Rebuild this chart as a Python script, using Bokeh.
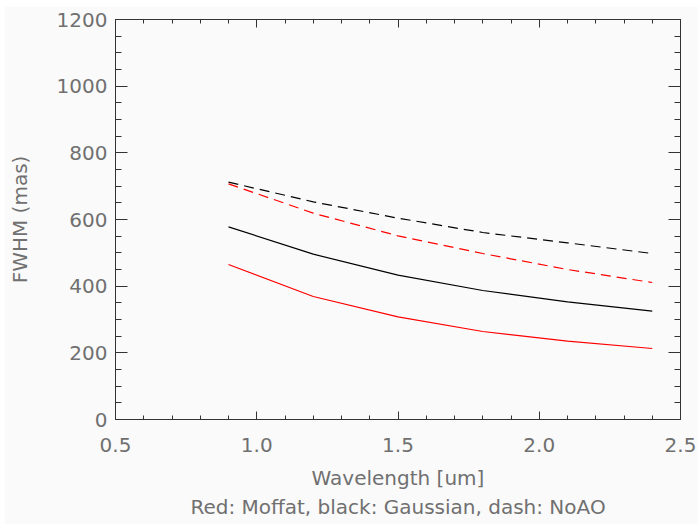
from bokeh.plotting import figure
from bokeh.models import (Range1d, LinearAxis, SingleIntervalTicker, NumeralTickFormatter,
                          Title, CustomJSTickFormatter)
from bokeh.embed import file_html
from bokeh.resources import INLINE

wavelength = [0.9, 1.2, 1.5, 1.8, 2.1, 2.4]
moffat = [465, 369, 308, 264, 235, 213]
gauss = [578, 496, 433, 387, 353, 325]
moffat_noao = [707, 619, 551, 498, 450, 411]
gauss_noao = [712, 653, 604, 561, 530, 498]

x_ticks = [0.5, 1.0, 1.5, 2.0, 2.5]
y_ticks = [0, 200, 400, 600, 800, 1000, 1200]

BG = "#fafafa"
TXT = "#707070"
AX = "#333333"
FONT = "DejaVu Sans"

p = figure(frame_width=565, frame_height=400,
           x_range=Range1d(x_ticks[0], x_ticks[-1]), y_range=Range1d(y_ticks[0], y_ticks[-1]),
           output_backend="svg", toolbar_location=None,
           background_fill_color=BG, border_fill_color=BG,
           min_border_left=111, min_border_right=18, min_border_top=13, min_border_bottom=105)
p.margin = (6, 0, 4, 4)
p.outline_line_color = None
p.grid.visible = False

xt = SingleIntervalTicker(interval=0.5, num_minor_ticks=5)
yt = SingleIntervalTicker(interval=200, num_minor_ticks=4)

def style(ax, major, minor):
    ax.axis_line_color = AX
    ax.major_tick_line_color = AX
    ax.minor_tick_line_color = AX
    ax.major_tick_in = major
    ax.major_tick_out = 0
    ax.minor_tick_in = minor
    ax.minor_tick_out = 0
    ax.major_label_text_color = TXT
    ax.major_label_text_font = FONT
    ax.major_label_text_font_size = "20px"
    ax.axis_label_text_color = TXT
    ax.axis_label_text_font = FONT
    ax.axis_label_text_font_style = "normal"
    ax.axis_label_text_font_size = "20px"

xa = p.xaxis[0]
xa.ticker = xt
xa.formatter = NumeralTickFormatter(format="0.0")
xa.axis_label = "Wavelength [um]"
style(xa, 8, 4)
xa.major_label_standoff = 18
xa.axis_label_standoff = 11

ya = p.yaxis[0]
ya.ticker = yt
ya.axis_label = "FWHM (mas)"
style(ya, 12, 6)
ya.major_label_standoff = 8
ya.axis_label_standoff = 22

blank = CustomJSTickFormatter(code="return ''")

top = LinearAxis(ticker=xt, formatter=blank)
style(top, 8, 4)
top.major_label_text_font_size = "1px"
top.major_label_standoff = 0
p.add_layout(top, "above")

right = LinearAxis(ticker=yt, formatter=blank)
style(right, 12, 6)
right.major_label_text_font_size = "1px"
right.major_label_standoff = 0
p.add_layout(right, "right")

p.add_layout(Title(text="Red: Moffat, black: Gaussian, dash: NoAO", align="center",
                   text_font=FONT, text_font_size="20px", text_font_style="normal",
                   text_color=TXT, standoff=0), "below")

p.line(wavelength, gauss_noao, line_color="black", line_width=1.2, line_dash="10 6")
p.line(wavelength, moffat_noao, line_color="red", line_width=1.2, line_dash="10 6")
p.line(wavelength, gauss, line_color="black", line_width=1.2)
p.line(wavelength, moffat, line_color="red", line_width=1.2)

open("out.html", "w").write(file_html(p, INLINE))
